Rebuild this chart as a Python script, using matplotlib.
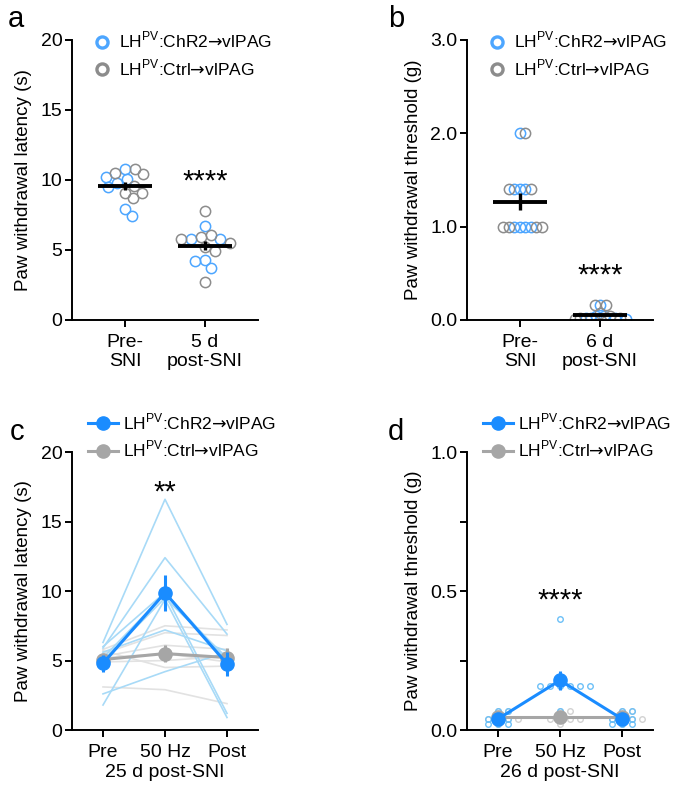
import matplotlib
matplotlib.use('Agg')
import matplotlib.pyplot as plt
from matplotlib.lines import Line2D
import numpy as np

plt.rcParams['font.family'] = ['Liberation Sans', 'DejaVu Sans']
plt.rcParams['mathtext.fontset'] = 'custom'
plt.rcParams['mathtext.rm'] = 'Liberation Sans'
plt.rcParams['mathtext.sf'] = 'DejaVu Sans'
plt.rcParams['axes.linewidth'] = 1.4

BLUE = '#1a8cff'
BLUE_OPEN = '#4da6ff'
GRAY_OPEN = '#8c8c8c'
GRAY = '#a6a6a6'
BLUE_LIGHT = '#a8daf7'
GRAY_LIGHT = '#e2e2e2'

chr2_label = r'LH$^{\mathregular{PV}}$:ChR2$\mathsf{→}$vlPAG'
ctrl_label = r'LH$^{\mathregular{PV}}$:Ctrl$\mathsf{→}$vlPAG'

# panel a, paw withdrawal latency (s)
a_groups = ['Pre-\nSNI', '5 d\npost-SNI']
a_chr2_pre = [10.1, 10.2, 10.8, 9.8, 9.5, 7.4, 7.9]
a_ctrl_pre = [10.8, 10.5, 10.4, 9.1, 8.7, 9.1, 9.6]
a_chr2_post = [6.7, 5.8, 5.8, 4.3, 4.2, 3.7]
a_ctrl_post = [7.8, 5.8, 6.1, 5.9, 5.2, 5.5, 4.9, 2.7]

# panel b, paw withdrawal threshold (g)
b_groups = ['Pre-\nSNI', '6 d\npost-SNI']
b_chr2_pre = [2.0, 1.4, 1.4, 1.4, 1.0, 1.0, 1.0, 1.0]
b_ctrl_pre = [2.0, 1.4, 1.4, 1.0, 1.0, 1.0, 1.0]
b_chr2_post = [0.16, 0.04, 0.02, 0.02, 0.008, 0.04, 0.02, 0.008]
b_ctrl_post = [0.16, 0.16, 0.07, 0.04, 0.02, 0.02, 0.008]

# panel c, latency per animal: pre / 50 Hz / post
sessions = ['Pre', '50 Hz', 'Post']
c_chr2_pre = [6.3, 5.9, 5.2, 1.8, 2.6, 5.6, 5.0, 6.0]
c_chr2_50hz = [16.6, 12.4, 9.8, 9.4, 4.2, 7.2, 9.5, 9.9]
c_chr2_post = [7.6, 6.9, 1.2, 0.9, 5.6, 5.7, 5.2, 5.0]
c_ctrl_pre = [3.1, 5.8, 5.5, 5.3, 4.9, 5.2, 5.7]
c_ctrl_50hz = [2.9, 7.5, 7.0, 6.1, 5.0, 5.5, 4.5]
c_ctrl_post = [1.9, 7.2, 6.8, 5.8, 5.3, 4.9, 4.6]

# panel d, threshold per animal: pre / 50 Hz / post
d_chr2_pre = [0.07, 0.04, 0.04, 0.02, 0.02, 0.02, 0.04, 0.07]
d_chr2_50hz = [0.4, 0.16, 0.16, 0.16, 0.16, 0.16, 0.16, 0.07]
d_chr2_post = [0.07, 0.07, 0.04, 0.04, 0.02, 0.02, 0.04, 0.02]
d_ctrl_pre = [0.07, 0.07, 0.04, 0.04, 0.04, 0.02, 0.04]
d_ctrl_50hz = [0.07, 0.07, 0.04, 0.04, 0.04, 0.04, 0.02]
d_ctrl_post = [0.07, 0.04, 0.04, 0.04, 0.04, 0.07, 0.02]


def sem(v):
    v = np.asarray(v, float)
    return v.std(ddof=1) / np.sqrt(len(v))


def swarm(ax, values, x0, sx, sy):
    # beeswarm offsets, spacing given in pixels
    vals = np.asarray(values, float)
    tr = ax.transData
    ypx = tr.transform(np.column_stack([np.full(len(vals), x0), vals]))[:, 1]
    xpx0 = tr.transform([[x0, 0]])[0, 0]
    cands = [0.0]
    for k in range(1, 300):
        cands += [k * 0.5, -k * 0.5]
    placed = []
    offs = np.zeros(len(vals))
    for i in np.argsort(-vals, kind='stable'):
        for c in cands:
            if all(((c - px) / sx) ** 2 + ((ypx[i] - py) / sy) ** 2 >= 1 for px, py in placed):
                break
        placed.append((c, ypx[i]))
        offs[i] = c
    return tr.inverted().transform(np.column_stack([xpx0 + offs, ypx]))[:, 0]


def style(ax):
    for s in ['top', 'right']:
        ax.spines[s].set_visible(False)
    ax.tick_params(direction='out', length=5, width=1.4, labelsize=14)
    ax.tick_params(axis='x', pad=5)
    ax.tick_params(axis='y', pad=2)


def dot_panel(ax, groups, chr2, ctrl, ms, sx, sy):
    for k, (vb, vg) in enumerate(zip(chr2, ctrl)):
        vals = list(vb) + list(vg)
        cols = [BLUE_OPEN] * len(vb) + [GRAY_OPEN] * len(vg)
        xs = swarm(ax, vals, k, sx, sy)
        for x, y, c in zip(xs, vals, cols):
            ax.plot(x, y, 'o', ms=ms, mfc='none', mec=c, mew=1.1, zorder=2)
        m = np.mean(vals)
        ax.hlines(m, k - 0.34, k + 0.34, color='k', lw=2.8, zorder=3)
        ax.vlines(k, m - sem(vals), m + sem(vals), color='k', lw=2.4, zorder=3)
    ax.set_xticks(range(len(groups)))
    ax.set_xticklabels(groups, linespacing=1.2)
    handles = [Line2D([], [], ls='none', marker='o', ms=8, mfc='none', mec=BLUE_OPEN, mew=2.4),
               Line2D([], [], ls='none', marker='o', ms=8, mfc='none', mec=GRAY_OPEN, mew=2.4)]
    ax.legend(handles, [chr2_label, ctrl_label], loc='upper left', bbox_to_anchor=(0.115, 1.035),
              frameon=False, fontsize=12.5, handlelength=1.0, handletextpad=0.5,
              labelspacing=0.4, borderpad=0, borderaxespad=0)


def line_panel(ax, chr2, ctrl, indiv_lines):
    x = np.arange(len(sessions))
    if indiv_lines:
        for vals in np.array(ctrl).T:
            ax.plot(x, vals, color=GRAY_LIGHT, lw=1.2, zorder=1)
        for vals in np.array(chr2).T:
            ax.plot(x, vals, color=BLUE_LIGHT, lw=1.2, zorder=1)
    else:
        for data, col in [(ctrl, '#d2d2d2'), (chr2, '#6cc0f7')]:
            for k, vals in enumerate(data):
                xs = swarm(ax, vals, k, 10, 5)
                ax.plot(xs, vals, 'o', ms=4, mfc='none', mec=col, mew=1.0, zorder=1)
    for data, col, z in [(ctrl, GRAY, 3), (chr2, BLUE, 4)]:
        means = [np.mean(v) for v in data]
        errs = [sem(v) for v in data]
        ax.errorbar(x, means, yerr=errs, fmt='-o', color=col, ms=9.5, lw=2.2,
                    elinewidth=2.2, capsize=0, zorder=z)
    ax.set_xticks(x)
    ax.set_xticklabels(sessions)
    handles = [Line2D([], [], color=BLUE, lw=2.2, marker='o', ms=9.5),
               Line2D([], [], color=GRAY, lw=2.2, marker='o', ms=9.5)]
    ax.legend(handles, [chr2_label, ctrl_label], loc='upper left', bbox_to_anchor=(0.085, 1.145),
              frameon=False, fontsize=12.5, handlelength=1.75, handletextpad=0.3,
              labelspacing=0.4, borderpad=0, borderaxespad=0)


fig = plt.figure(figsize=(6.8, 7.87), dpi=100)
ax_a = fig.add_axes([0.1059, 0.5934, 0.2735, 0.3558])
ax_b = fig.add_axes([0.6868, 0.5934, 0.2735, 0.3558])
ax_c = fig.add_axes([0.1059, 0.0724, 0.2735, 0.3532])
ax_d = fig.add_axes([0.6868, 0.0724, 0.2735, 0.3532])

# a
ax_a.set_xlim(-0.66, 1.66)
ax_a.set_ylim(0, 20)
ax_a.set_yticks([0, 5, 10, 15, 20])
style(ax_a)
dot_panel(ax_a, a_groups, [a_chr2_pre, a_chr2_post], [a_ctrl_pre, a_ctrl_post], 7.4, 10, 10)
ax_a.set_ylabel('Paw withdrawal latency (s)', fontsize=13.5, labelpad=6)
ax_a.text(1, 9.9, '****', ha='center', va='center', fontsize=21)

# b
ax_b.set_xlim(-0.66, 1.66)
ax_b.set_ylim(0, 3.0)
ax_b.set_yticks([0, 1, 2, 3])
ax_b.set_yticklabels(['0.0', '1.0', '2.0', '3.0'])
style(ax_b)
dot_panel(ax_b, b_groups, [b_chr2_pre, b_chr2_post], [b_ctrl_pre, b_ctrl_post], 7.4, 5.5, 4)
ax_b.set_ylabel('Paw withdrawal threshold (g)', fontsize=13.5, labelpad=6)
ax_b.text(1, 0.48, '****', ha='center', va='center', fontsize=21)

# c
ax_c.set_xlim(-0.5, 2.5)
ax_c.set_ylim(0, 20)
ax_c.set_yticks([0, 5, 10, 15, 20])
style(ax_c)
line_panel(ax_c, [c_chr2_pre, c_chr2_50hz, c_chr2_post],
           [c_ctrl_pre, c_ctrl_50hz, c_ctrl_post], True)
ax_c.set_ylabel('Paw withdrawal latency (s)', fontsize=13.5, labelpad=6)
ax_c.set_xlabel('25 d post-SNI', fontsize=14, labelpad=2)
ax_c.text(1, 17.1, '**', ha='center', va='center', fontsize=21)

# d
ax_d.set_xlim(-0.5, 2.5)
ax_d.set_ylim(0, 1.0)
ax_d.set_yticks([0, 0.5, 1.0])
ax_d.set_yticklabels(['0.0', '0.5', '1.0'])
ax_d.set_yticks([0.25, 0.75], minor=True)
style(ax_d)
ax_d.tick_params(axis='y', which='minor', length=5, width=1.4)
line_panel(ax_d, [d_chr2_pre, d_chr2_50hz, d_chr2_post],
           [d_ctrl_pre, d_ctrl_50hz, d_ctrl_post], False)
ax_d.set_ylabel('Paw withdrawal threshold (g)', fontsize=13.5, labelpad=6)
ax_d.set_xlabel('26 d post-SNI', fontsize=14, labelpad=2)
ax_d.text(1, 0.465, '****', ha='center', va='center', fontsize=21)

for letter, x, y in [('a', 0.012, 0.976), ('b', 0.57, 0.976), ('c', 0.015, 0.451), ('d', 0.57, 0.451)]:
    fig.text(x, y, letter, fontsize=21, ha='left', va='center')

fig.savefig('out.png', dpi=100)
